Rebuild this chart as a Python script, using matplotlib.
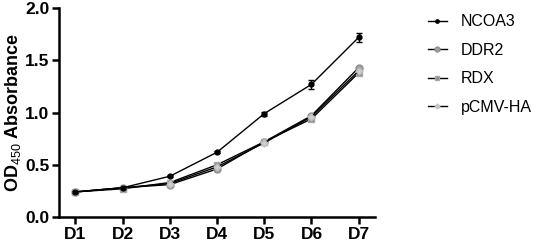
import matplotlib
matplotlib.use('Agg')
import matplotlib.pyplot as plt

plt.rcParams['font.family'] = 'Liberation Sans'
plt.rcParams['mathtext.fontset'] = 'custom'
plt.rcParams['mathtext.rm'] = 'Liberation Sans'
plt.rcParams['mathtext.bf'] = 'Liberation Sans:bold'
plt.rcParams['mathtext.default'] = 'rm'

days = ['D1', 'D2', 'D3', 'D4', 'D5', 'D6', 'D7']
ncoa3 = [0.24, 0.28, 0.39, 0.62, 0.99, 1.27, 1.72]
ncoa3_err = [0.01, 0.01, 0.01, 0.01, 0.02, 0.04, 0.04]
ddr2 = [0.24, 0.28, 0.31, 0.46, 0.72, 0.97, 1.43]
rdx = [0.24, 0.27, 0.33, 0.50, 0.72, 0.94, 1.38]
pcmv = [0.24, 0.28, 0.32, 0.48, 0.71, 0.96, 1.40]

x = range(len(days))

fig = plt.figure(figsize=(5.36, 2.46), dpi=100)
ax = fig.add_axes([0.11, 0.118, 0.59, 0.849])

h1 = ax.errorbar(x, ncoa3, yerr=ncoa3_err, color='black', lw=1, marker='o', ms=3.5,
                 mfc='black', mec='black', capsize=2, elinewidth=1, zorder=5)
h2, = ax.plot(x, ddr2, color='black', lw=1, marker='o', ms=5, mfc='#a0a0a0', mec='#909090',
              zorder=3)
h3, = ax.plot(x, rdx, color='black', lw=1, marker='s', ms=5, mfc='#8a8a8a', mec='#a8a8a8',
              zorder=4)
h4, = ax.plot(x, pcmv, color='black', lw=1, marker='D', ms=3.5, mfc='#d0d0d0', mec='#c0c0c0',
              zorder=4)

ax.set_xlim(-0.35, 6.35)
ax.set_ylim(0, 2.0)
ax.set_yticks([0, 0.5, 1.0, 1.5, 2.0])
ax.set_yticklabels(['0.0', '0.5', '1.0', '1.5', '2.0'])
ax.set_xticks(list(x))
ax.set_xticklabels(days)
for lbl in ax.get_xticklabels() + ax.get_yticklabels():
    lbl.set_fontweight('bold')
    lbl.set_fontsize(12.5)

ax.set_ylabel(r'OD$_{450}$ Absorbance', fontsize=13, fontweight='bold', labelpad=1)

for side in ['top', 'right']:
    ax.spines[side].set_visible(False)
for side in ['left', 'bottom']:
    ax.spines[side].set_linewidth(1.8)
ax.tick_params(width=1.8, length=5, pad=2)

# handles without error bars for the legend
l1, = ax.plot([], [], color='black', lw=1, marker='o', ms=3.5, mfc='black', mec='black')
ax.legend([l1, h2, h3, h4], ['NCOA3', 'DDR2', 'RDX', 'pCMV-HA'],
          loc='upper left', bbox_to_anchor=(1.12, 1.04), frameon=False, fontsize=11.5,
          handlelength=1.2, labelspacing=0.85, handletextpad=0.9, markerscale=0.7)

fig.savefig('out.png', dpi=100)
